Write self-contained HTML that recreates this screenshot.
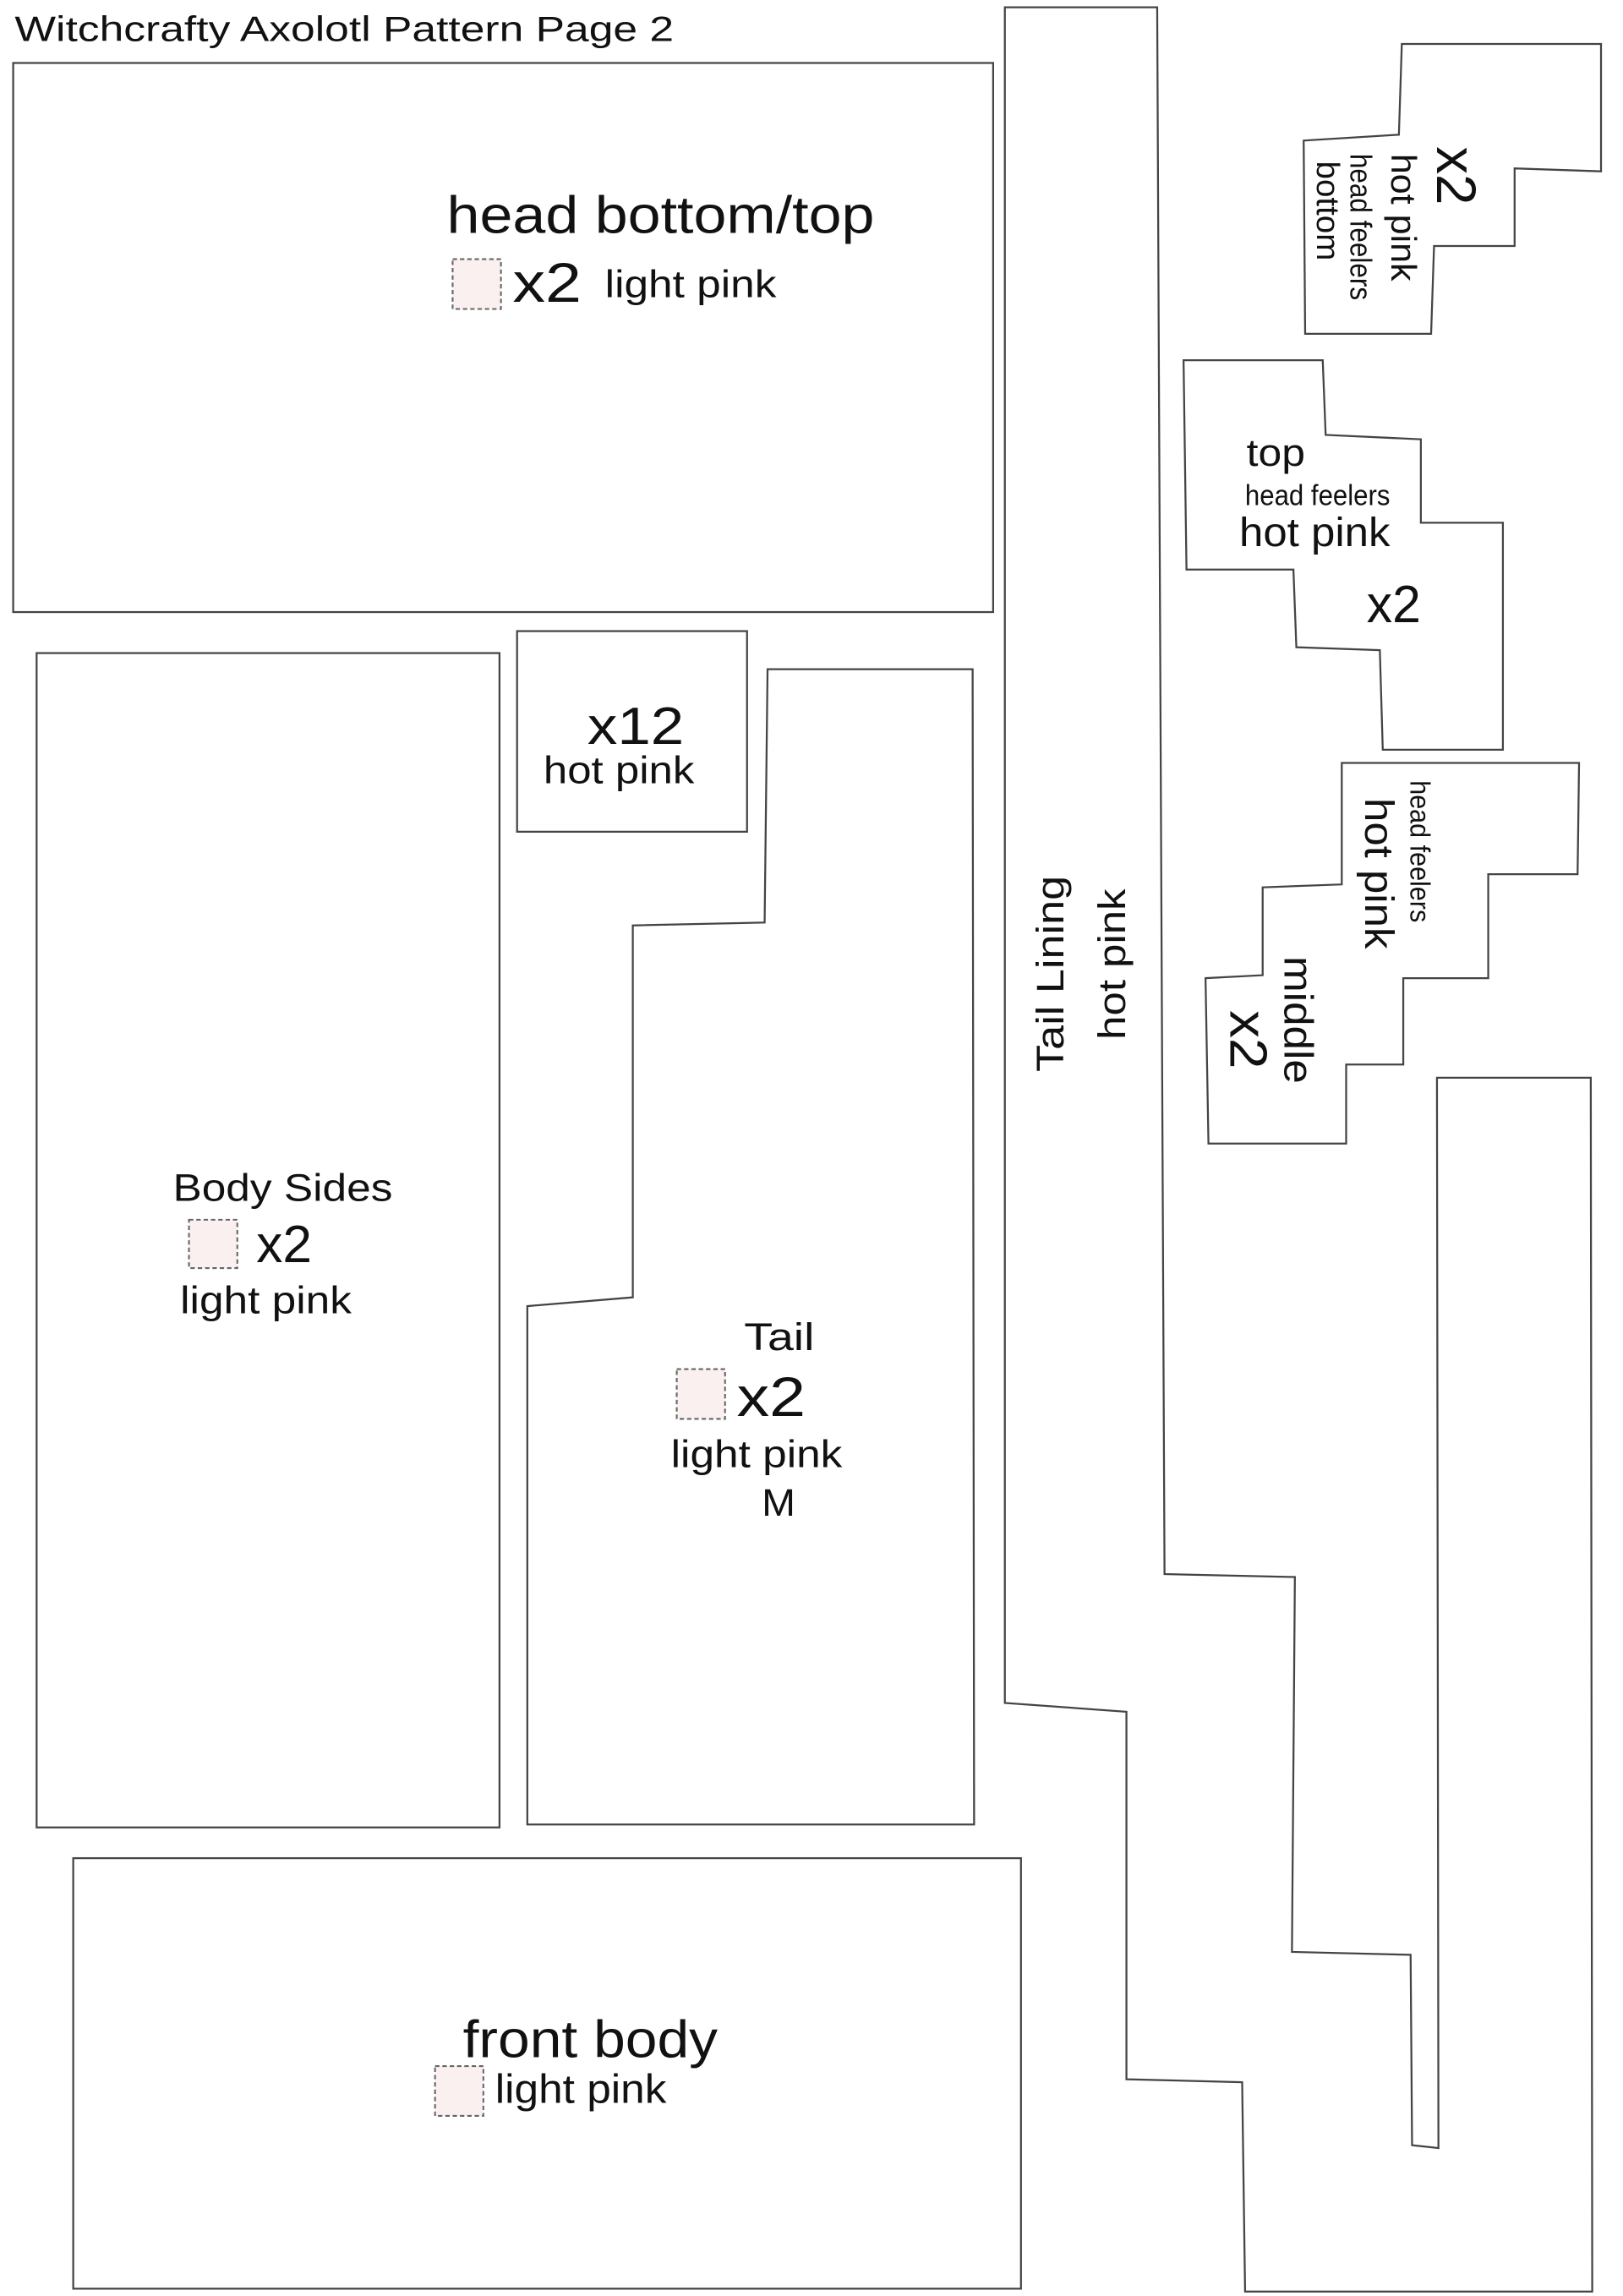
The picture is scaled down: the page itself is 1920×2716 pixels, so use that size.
<!DOCTYPE html>
<html><head><meta charset="utf-8"><style>
html,body{margin:0;padding:0;background:#fff;}
svg{display:block;}
text{font-family:"Liberation Sans",Arial,sans-serif;fill:#111;}
</style></head><body>
<svg width="1920" height="2716" viewBox="0 0 1108 1568" preserveAspectRatio="none" xmlns="http://www.w3.org/2000/svg">
<g fill="none" stroke="#444" stroke-width="1.3">
<rect x="9" y="43" width="669" height="375"/>
<polygon points="686,5 790,5 795,1075 884,1077 882,1333 963,1335 964,1465 982,1467 981,736 1086,736 1087,1565 850,1565 848,1422 769,1420 769,1169 686,1163"/>
<polygon points="957,30 1093,30 1093,117 1034,115 1034,168 979,168 977,228 891,228 890,96 955,92"/>
<polygon points="808,246 903,246 905,297 970,300 970,357 1026,357 1026,512 944,512 942,444 885,442 883,389 810,389"/>
<polygon points="916,521 1078,521 1077,597 1016,597 1016,668 958,668 958,727 919,727 919,781 825,781 823,668 862,666 862,606 916,604"/>
<rect x="25" y="446" width="316" height="802"/>
<rect x="353" y="431" width="157" height="137"/>
<polygon points="524,457 664,457 665,1246 360,1246 360,892 432,886 432,632 522,630"/>
<rect x="50" y="1269" width="647" height="294"/>
</g>
<g fill="#f9f0ef" stroke="#666" stroke-width="1.2" stroke-dasharray="3,2">
<rect x="309" y="177" width="33" height="34"/>
<rect x="129" y="833" width="33" height="33"/>
<rect x="462" y="935" width="33" height="34"/>
<rect x="297" y="1411" width="33" height="34"/>
</g>
<text x="10" y="28" font-size="24" textLength="450" lengthAdjust="spacingAndGlyphs">Witchcrafty Axolotl Pattern Page 2</text>
<text x="305" y="159" font-size="36" textLength="292" lengthAdjust="spacingAndGlyphs">head bottom/top</text>
<text x="350" y="206" font-size="38" textLength="47" lengthAdjust="spacingAndGlyphs">x2</text>
<text x="413" y="203" font-size="26" textLength="117" lengthAdjust="spacingAndGlyphs">light pink</text>

<text x="401" y="508" font-size="36" textLength="66" lengthAdjust="spacingAndGlyphs">x12</text>
<text x="371" y="535" font-size="26" textLength="103" lengthAdjust="spacingAndGlyphs">hot pink</text>

<text x="118" y="820" font-size="26" textLength="150" lengthAdjust="spacingAndGlyphs">Body Sides</text>
<text x="175" y="862" font-size="36" textLength="38" lengthAdjust="spacingAndGlyphs">x2</text>
<text x="123" y="897" font-size="26" textLength="117" lengthAdjust="spacingAndGlyphs">light pink</text>

<text x="508" y="922" font-size="26" textLength="48" lengthAdjust="spacingAndGlyphs">Tail</text>
<text x="503" y="967" font-size="38" textLength="47" lengthAdjust="spacingAndGlyphs">x2</text>
<text x="458" y="1002" font-size="26" textLength="117" lengthAdjust="spacingAndGlyphs">light pink</text>
<text x="520" y="1035" font-size="26" textLength="23" lengthAdjust="spacingAndGlyphs">M</text>

<text x="316" y="1405" font-size="36" textLength="174" lengthAdjust="spacingAndGlyphs">front body</text>
<text x="338" y="1436" font-size="28" textLength="117" lengthAdjust="spacingAndGlyphs">light pink</text>

<text x="851" y="318" font-size="26" textLength="40" lengthAdjust="spacingAndGlyphs">top</text>
<text x="850" y="345" font-size="20" textLength="99" lengthAdjust="spacingAndGlyphs">head feelers</text>
<text x="846" y="373" font-size="28" textLength="103" lengthAdjust="spacingAndGlyphs">hot pink</text>
<text x="933" y="425" font-size="36" textLength="37" lengthAdjust="spacingAndGlyphs">x2</text>

<text transform="translate(981,100) rotate(90)" font-size="38" textLength="40" lengthAdjust="spacingAndGlyphs">x2</text>
<text transform="translate(950,105) rotate(90)" font-size="24" textLength="87" lengthAdjust="spacingAndGlyphs">hot pink</text>
<text transform="translate(922,105) rotate(90)" font-size="21" textLength="100" lengthAdjust="spacingAndGlyphs">head feelers</text>
<text transform="translate(899,110) rotate(90)" font-size="22" textLength="68" lengthAdjust="spacingAndGlyphs">bottom</text>

<text transform="translate(963,533) rotate(90)" font-size="19" textLength="97" lengthAdjust="spacingAndGlyphs">head feelers</text>
<text transform="translate(932,545) rotate(90)" font-size="28" textLength="103" lengthAdjust="spacingAndGlyphs">hot pink</text>
<text transform="translate(877,653) rotate(90)" font-size="28" textLength="87" lengthAdjust="spacingAndGlyphs">middle</text>
<text transform="translate(840,690) rotate(90)" font-size="36" textLength="40" lengthAdjust="spacingAndGlyphs">x2</text>

<text transform="translate(726,732) rotate(-90)" font-size="26" textLength="134" lengthAdjust="spacingAndGlyphs">Tail Lining</text>
<text transform="translate(768,710) rotate(-90)" font-size="26" textLength="103" lengthAdjust="spacingAndGlyphs">hot pink</text>
</svg>
</body></html>
